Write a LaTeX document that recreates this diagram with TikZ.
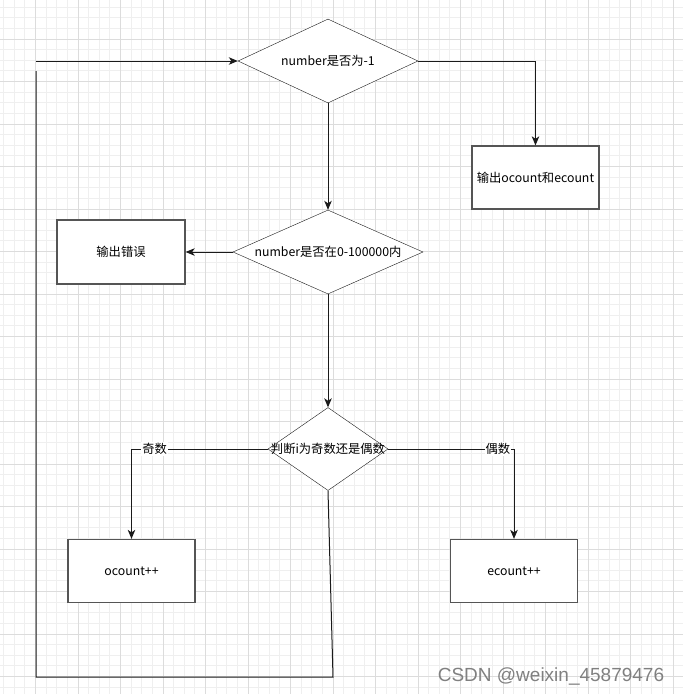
\documentclass[tikz,border=0pt]{standalone}
\usepackage{fontspec}
\setmainfont{Noto Sans CJK SC}
\newfontfamily\marca{Liberation Sans}
\usetikzlibrary{shapes.geometric,arrows.meta}
\definecolor{linha}{HTML}{1A1A1A}
\definecolor{borda}{HTML}{555555}
\definecolor{gradeA}{HTML}{DCDCDC}
\definecolor{gradeB}{HTML}{EFEFEF}

\begin{document}
\begin{tikzpicture}[x=1pt, y=-1pt, font=\fontsize{12.3}{14}\selectfont,
    decisao/.style={draw=linha, diamond, fill=white, inner sep=0pt, minimum width=#1, minimum height=84pt},
    caixa/.style={draw=borda, line width=1.3pt, rectangle, fill=white, minimum width=127pt, minimum height=63pt},
    fluxo/.style={draw=linha, line width=1pt, -{Stealth[length=9pt, width=7.5pt, inset=2.5pt]}},
    rotulo/.style={fill=white, inner sep=1pt}]
      \useasboundingbox (0,0) rectangle (683,694);
      \fill[white] (0,0) rectangle (683,694);

      % Grade de fundo
      \begin{scope}[shift={(35.5,39)}]
        \draw[gradeB, line width=0.8pt, step=10.625pt] (-40,660) grid (660,-40);
        \draw[gradeA, line width=1pt, step=42.5pt] (-40,660) grid (660,-40);
      \end{scope}

      % Decisoes
      \node[decisao=180pt, label=center:{number是否为-1}] (d1) at (328,61) {};
      \node[decisao=190pt, label=center:{number是否在0-100000内}] (d2) at (328,252) {};
      \node[decisao=120pt, minimum height=83pt, label=center:{判断i为奇数还是偶数}] (d3) at (328,449) {};

      % Caixas
      \node[caixa] (saida) at (535.5,177.5) {输出ocount和ecount};
      \node[caixa, minimum width=128pt, minimum height=64pt] (erro) at (121,252) {输出错误};
      \node[caixa] (impar) at (131.5,571) {ocount++};
      \node[caixa] (par) at (514,571) {ecount++};

      % Setas
      \draw[fluxo] (d1.east) -| (saida.north);
      \draw[fluxo] (d1.south) -- (d2.north);
      \draw[fluxo] (d2.west) -- (erro.east);
      \draw[fluxo] (d2.south) -- (d3.north);
      \draw[fluxo] (d3.west) -| node[rotulo, pos=0.415] (ri) {奇数} (impar.north);
      \draw[fluxo] (d3.east) -| node[rotulo, pos=0.436] (rp) {偶数} (par.north);

      % Volta para o inicio
      \coordinate (c1) at (333,677);
      \coordinate (c2) at (36,677);
      \coordinate (c3) at (36,71);
      \coordinate (c4) at (36,61);
      \draw[linha, line width=1pt] (d3.south) -- (c1) -- (c2) -- (c3);
      \draw[fluxo] (c4) -- (d1.west);

      % Marca d'agua
      \node[text=gray, font=\marca\fontsize{19}{21}\selectfont] (marca) at (551,676) {CSDN @weixin\_45879476};
    \end{tikzpicture}
\end{document}
